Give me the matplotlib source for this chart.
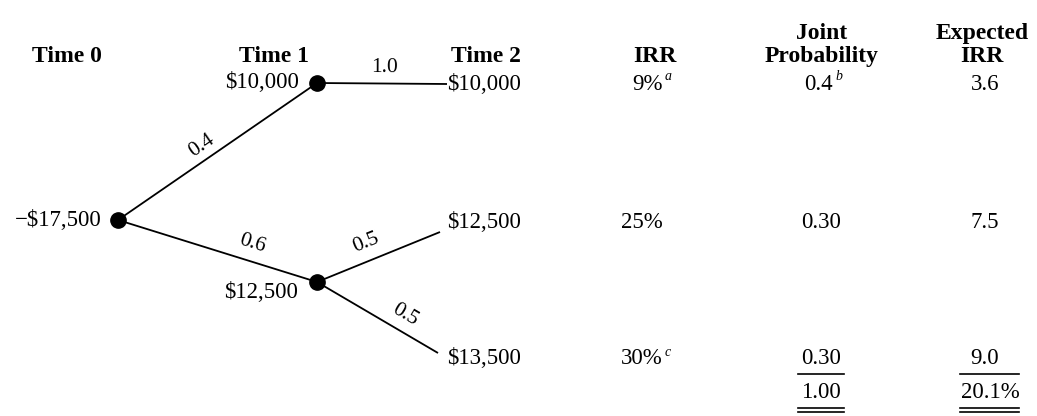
import numpy as np
import matplotlib
matplotlib.use('Agg')
import matplotlib.pyplot as plt

plt.rcParams['font.family'] = ['Liberation Serif', 'DejaVu Serif']

# Data
headers = ['Time 0', 'Time 1', 'Time 2', 'IRR', 'Joint\nProbability', 'Expected\nIRR']
start_value = '\u2212$17,500'
time1_values = ['$10,000', '$12,500']
time2_values = ['$10,000', '$12,500', '$13,500']
first_probs = ['0.4', '0.6']
second_probs = ['1.0', '0.5', '0.5']
irr = ['9%', '25%', '30%']
irr_notes = ['a', '', 'c']
joint_prob = ['0.4', '0.30', '0.30']
joint_notes = ['b', '', '']
expected_irr = ['3.6', '7.5', '9.0']
joint_total = '1.00'
expected_total = '20.1%'

# Layout (pixel coordinates, y downwards)
n0 = (118, 220)
n1 = [(317, 83), (317, 282)]
ends = [(447, 84), (440, 232), (438, 353)]
row_y = [84, 222, 359]
total_y = 393

fig = plt.figure(figsize=(10.37, 4.16), dpi=100)
ax = fig.add_axes([0, 0, 1, 1])
ax.set_xlim(0, 1037)
ax.set_ylim(416, 0)
ax.axis('off')

fs = 16.5
lc = 'black'


def branch(p, q, label, frac, off):
    ax.plot([p[0], q[0]], [p[1], q[1]], color=lc, lw=1.3, solid_capstyle='butt')
    dx, dy = q[0] - p[0], q[1] - p[1]
    L = np.hypot(dx, dy)
    nx, ny = dy / L, -dx / L  # normal pointing up
    if ny > 0:
        nx, ny = -nx, -ny
    x = p[0] + frac * dx + off * nx
    y = p[1] + frac * dy + off * ny
    ang = -np.degrees(np.arctan2(dy, dx))
    ax.text(x, y, label, fontsize=15.5, rotation=ang, ha='center', va='center',
            rotation_mode='anchor')


# first stage branches
branch(n0, n1[0], first_probs[0], 0.46, 14)
branch(n0, n1[1], first_probs[1], 0.65, 17)
# second stage branches
branch(n1[0], ends[0], second_probs[0], 0.52, 16)
branch(n1[1], ends[1], second_probs[1], 0.45, 18)
branch(n1[1], ends[2], second_probs[2], 0.66, 16)

# nodes
for p in [n0] + n1:
    ax.plot(p[0], p[1], 'o', color='black', markersize=11, zorder=5)

# headers
hx = [67, 274, 486, 655, 822, 982]
for x, h in zip(hx, headers):
    ax.text(x, 62, h, fontsize=17, fontweight='bold', ha='center', va='baseline',
            linespacing=1.15)

# node values
ax.text(102, n0[1], start_value, fontsize=fs, ha='right', va='center')
ax.text(299, n1[0][1], time1_values[0], fontsize=fs, ha='right', va='center')
ax.text(298, 292, time1_values[1], fontsize=fs, ha='right', va='center')
for ry, v in zip(row_y, time2_values):
    ax.text(447, ry, v, fontsize=fs, ha='left', va='center')

# IRR column
for y, v, n in zip(row_y, irr, irr_notes):
    ax.text(663, y, v, fontsize=fs, ha='right', va='center')
    if n:
        ax.text(665, y - 7, n, fontsize=10, style='italic', ha='left', va='center')

# joint probability column
for y, v, n in zip(row_y, joint_prob, joint_notes):
    if n:
        ax.text(833, y, v, fontsize=fs, ha='right', va='center')
        ax.text(835, y - 7, n, fontsize=10, style='italic', ha='left', va='center')
    else:
        ax.text(821, y, v, fontsize=fs, ha='center', va='center')
ax.text(821, total_y, joint_total, fontsize=fs, ha='center', va='center')

# expected IRR column
for y, v in zip(row_y, expected_irr):
    ax.text(985, y, v, fontsize=fs, ha='center', va='center')
ax.text(990, total_y, expected_total, fontsize=fs, ha='center', va='center')

# underlines
ax.plot([798, 844], [374, 374], color=lc, lw=1.2)
ax.plot([960, 1019], [374, 374], color=lc, lw=1.2)
for yy in [408, 412]:
    ax.plot([798, 844], [yy, yy], color=lc, lw=1.2)
    ax.plot([960, 1019], [yy, yy], color=lc, lw=1.2)

fig.savefig('out.png', dpi=100, facecolor='white')
